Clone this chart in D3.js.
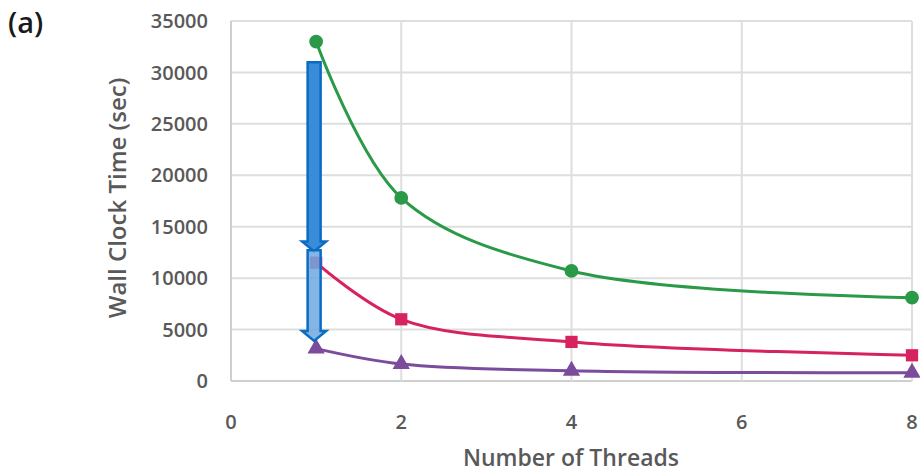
<!DOCTYPE html>
<html>
<head>
<meta charset="utf-8">
<script src="https://cdn.jsdelivr.net/npm/d3@7"></script>
<style>
  body { margin: 0; background: #fff; }
  text { font-family: "Open Sans", "DejaVu Sans", sans-serif; }
</style>
</head>
<body>
<div id="chart"></div>
<script>
// data
var threads = [1, 2, 4, 8];
var seriesTop = [33000, 17800, 10700, 8100];
var seriesMid = [11500, 6000, 3800, 2500];
var seriesLow = [3150, 1650, 1000, 800];
var xTicks = [0, 2, 4, 6, 8];
var yTicks = [0, 5000, 10000, 15000, 20000, 25000, 30000, 35000];
// annotation arrows at x = 1 (data units)
var arrowFrom = [31000, 12700];
var arrowTo = [12600, 3900];

var margin = {top: 21, right: 8, bottom: 91, left: 231},
    width = 920 - margin.left - margin.right,
    height = 472 - margin.top - margin.bottom;

var svg = d3.select("#chart")
    .append("svg")
    .attr("width", 920)
    .attr("height", 472);

var plot = svg.append("g")
    .attr("transform", "translate(" + margin.left + "," + margin.top + ")");

var x = d3.scaleLinear().domain([0, 8]).range([0, 681]);
var y = d3.scaleLinear().domain([0, 35000]).range([360, 0]);

// grid lines
plot.append("g")
    .selectAll("line.h")
    .data(yTicks)
    .enter().append("line")
    .attr("x1", 0).attr("x2", x(8))
    .attr("y1", d => y(d)).attr("y2", d => y(d))
    .attr("stroke", d => d == 0 ? "#cfcfcf" : "#dedede")
    .attr("stroke-width", 2);

plot.append("g")
    .selectAll("line.v")
    .data(xTicks)
    .enter().append("line")
    .attr("x1", d => x(d)).attr("x2", d => x(d))
    .attr("y1", y(0)).attr("y2", y(35000))
    .attr("stroke", d => d == 0 ? "#cfcfcf" : "#dedede")
    .attr("stroke-width", 2);

// tick labels
plot.append("g")
    .selectAll("text")
    .data(yTicks)
    .enter().append("text")
    .attr("x", -23)
    .attr("y", d => y(d))
    .attr("dy", "0.36em")
    .attr("text-anchor", "end")
    .attr("font-size", 20)
    .attr("font-weight", 600)
    .attr("fill", "#595959")
    .text(d => d);

plot.append("g")
    .selectAll("text")
    .data(xTicks)
    .enter().append("text")
    .attr("x", d => x(d))
    .attr("y", y(0) + 41)
    .attr("dy", "0.36em")
    .attr("text-anchor", "middle")
    .attr("font-size", 20)
    .attr("font-weight", 600)
    .attr("fill", "#595959")
    .text(d => d);

// axis titles
svg.append("text")
    .attr("transform", "translate(126,198)rotate(-90)")
    .attr("text-anchor", "middle")
    .attr("font-size", 24)
    .attr("font-weight", 600)
    .attr("fill", "#595959")
    .text("Wall Clock Time (sec)");

svg.append("text")
    .attr("x", 571)
    .attr("y", 466)
    .attr("text-anchor", "middle")
    .attr("font-size", 23)
    .attr("font-weight", 600)
    .attr("fill", "#595959")
    .text("Number of Threads");

svg.append("text")
    .attr("x", 8)
    .attr("y", 33)
    .attr("font-size", 29)
    .attr("font-weight", 600)
    .attr("fill", "#1a1a1a")
    .text("(a)");

// lines
var line = d3.line()
    .x((d, i) => x(threads[i]))
    .y(d => y(d))
    .curve(d3.curveCatmullRom.alpha(0.5));

var series = [
    {values: seriesTop, color: "#2a9a48", shape: d3.symbolCircle},
    {values: seriesMid, color: "#d6225e", shape: d3.symbolSquare},
    {values: seriesLow, color: "#7b4b9c", shape: d3.symbolTriangle}
];

series.forEach(function(s) {
    plot.append("path")
        .datum(s.values)
        .attr("d", line)
        .attr("fill", "none")
        .attr("stroke", s.color)
        .attr("stroke-width", 3);
});

series.forEach(function(s) {
    plot.append("g")
        .selectAll("path")
        .data(s.values)
        .enter().append("path")
        .attr("transform", (d, i) => "translate(" + x(threads[i]) + "," + y(d) + ")")
        .attr("d", d3.symbol().type(s.shape).size(s.shape == d3.symbolTriangle ? 130 : 150))
        .attr("fill", s.color);
});

// arrows
function arrow(y0, y1, fill, opacity) {
    var cx = x(1) - 2, sw = 6.5, hw = 12, hh = 10;
    var top = y(y0), tip = y(y1);
    var pts = [
        [cx - sw, top], [cx + sw, top], [cx + sw, tip - hh], [cx + hw, tip - hh],
        [cx, tip], [cx - hw, tip - hh], [cx - sw, tip - hh]
    ];
    plot.append("path")
        .attr("d", d3.line()(pts) + "Z")
        .attr("fill", fill)
        .attr("fill-opacity", opacity)
        .attr("stroke", "#0b6cc4")
        .attr("stroke-width", 2.5)
        .attr("stroke-linejoin", "miter");
}
arrow(arrowFrom[0], arrowTo[0], "#3a8cd8", 1);
arrow(arrowFrom[1], arrowTo[1], "#6fa9e0", 0.85);
</script>
</body>
</html>
